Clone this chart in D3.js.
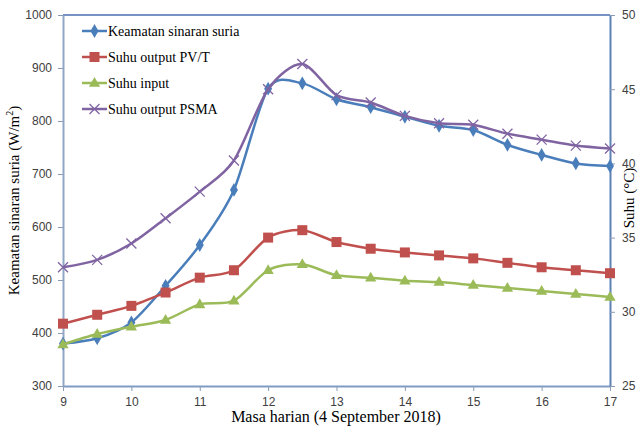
<!DOCTYPE html>
<html><head><meta charset="utf-8">
<script src="https://cdn.jsdelivr.net/npm/d3@7"></script>
<style>body{margin:0;background:#fff}svg{display:block}</style>
</head><body>
<svg id="c" width="640" height="429"></svg>
<script>
const hours = [9,9.5,10,10.5,11,11.5,12,12.5,13,13.5,14,14.5,15,15.5,16,16.5,17];
const irradiance = [380,390,420,489,566,670,861,871,841,826,808,791,783,755,736,720,715];
const suhuPVT = [29.2,29.8,30.4,31.3,32.3,32.8,35.0,35.5,34.7,34.25,34.0,33.8,33.6,33.3,33.0,32.8,32.6];
const suhuInput = [27.8,28.5,29.0,29.45,30.5,30.75,32.8,33.2,32.46,32.3,32.1,32.0,31.8,31.6,31.4,31.2,31.0];
const suhuPSMA = [33.0,33.5,34.6,36.3,38.1,40.2,45.0,46.7,44.6,44.1,43.2,42.7,42.6,42.0,41.6,41.2,41.0];
const xTicks = [9,10,11,12,13,14,15,16,17];
const leftTicks = [300,400,500,600,700,800,900,1000];
const rightTicks = [25,30,35,40,45,50];
const legendLabels = ["Keamatan sinaran suria","Suhu output PV/T","Suhu input","Suhu output PSMA"];

const svg = d3.select("#c");
const L=63, R=610, T=15, B=386;
const x = d3.scaleLinear().domain([9,17]).range([L,R]);
const yL = d3.scaleLinear().domain([300,1000]).range([B,T]);
const yR = d3.scaleLinear().domain([25,50]).range([B,T]);

const tickFont = "'Liberation Sans', Arial, sans-serif";
const serif = "'Liberation Serif', 'Times New Roman', serif";

// top border
svg.append("line").attr("x1",L).attr("x2",R).attr("y1",T).attr("y2",T)
  .attr("stroke","#4a6fb0").attr("stroke-width",1.5);

function styleAxis(g, color){
  g.select(".domain").attr("stroke",color).attr("stroke-width",2);
  g.selectAll(".tick line").attr("stroke","#8a9bb5").attr("stroke-width",1);
  g.selectAll(".tick text").attr("fill","#404040").style("font-family",tickFont).style("font-size","12px");
}
const gx = svg.append("g").attr("transform",`translate(0,${B})`)
  .call(d3.axisBottom(x).tickValues(xTicks).tickSize(5).tickSizeOuter(0).tickPadding(6).tickFormat(d3.format("d")));
styleAxis(gx,"#7f9cc4");
const gl = svg.append("g").attr("transform",`translate(${L},0)`)
  .call(d3.axisLeft(yL).tickValues(leftTicks).tickSize(5).tickSizeOuter(0).tickPadding(6).tickFormat(d3.format("d")));
styleAxis(gl,"#8fa6c6");
const gr = svg.append("g").attr("transform",`translate(${R},0)`)
  .call(d3.axisRight(yR).tickValues(rightTicks).tickSize(5).tickSizeOuter(0).tickPadding(7).tickFormat(d3.format("d")));
styleAxis(gr,"#5f82b4");

// axis titles
svg.append("text").attr("transform",`translate(19,${(T+B)/2}) rotate(-90)`)
  .attr("text-anchor","middle").style("font-family",serif).style("font-size","15px").attr("fill","#000")
  .html("Keamatan sinaran suria (W/m<tspan dy='-6' font-size='10px'>2</tspan><tspan dy='6'>)</tspan>");
svg.append("text").attr("transform",`translate(634,198) rotate(-90)`)
  .attr("text-anchor","middle").style("font-family",serif).style("font-size","15px").attr("fill","#000")
  .text("Suhu (°C)");
svg.append("text").attr("x",336).attr("y",422).attr("text-anchor","middle")
  .style("font-family",serif).style("font-size","16px").attr("fill","#000")
  .text("Masa harian (4 September 2018)");

const series = [
  {vals: irradiance, y: yL, color:"#4a7ebb", marker:"diamond"},
  {vals: suhuPVT, y: yR, color:"#c0504d", marker:"square"},
  {vals: suhuInput, y: yR, color:"#9bbb59", marker:"triangle"},
  {vals: suhuPSMA, y: yR, color:"#8064a2", marker:"x"}
];

function drawMarker(g, type, cx, cy, color){
  if(type==="diamond"){
    g.append("path").attr("d",d3.symbol(d3.symbolDiamond,55)()).attr("transform",`translate(${cx},${cy})`).attr("fill",color);
  } else if(type==="square"){
    g.append("rect").attr("x",cx-5).attr("y",cy-5).attr("width",10).attr("height",10).attr("fill",color);
  } else if(type==="triangle"){
    g.append("path").attr("d",d3.symbol(d3.symbolTriangle,55)()).attr("transform",`translate(${cx},${cy+0.5})`).attr("fill",color);
  } else {
    g.append("path").attr("d",`M${cx-5},${cy-5}L${cx+5},${cy+5}M${cx-5},${cy+5}L${cx+5},${cy-5}`)
      .attr("stroke",color).attr("stroke-width",1.3).attr("fill","none");
  }
}

[0,1,2,3].forEach(i=>{
  const s = series[i];
  const line = d3.line().x((d,j)=>x(hours[j])).y(d=>s.y(d)).curve(d3.curveCardinal.tension(0.15));
  svg.append("path").datum(s.vals).attr("d",line).attr("fill","none").attr("stroke",s.color).attr("stroke-width",2.5);
  const mg = svg.append("g");
  s.vals.forEach((v,j)=>drawMarker(mg,s.marker,x(hours[j]),s.y(v),s.color));
});

// legend
const lg = svg.append("g");
legendLabels.forEach((lab,i)=>{
  const yy = 31 + i*26;
  const s = series[i];
  lg.append("line").attr("x1",82).attr("x2",107).attr("y1",yy).attr("y2",yy).attr("stroke",s.color).attr("stroke-width",2.5);
  drawMarker(lg,s.marker,94.5,yy,s.color);
  lg.append("text").attr("x",108).attr("y",yy+4.5).style("font-family",serif).style("font-size","14px").attr("fill","#000").text(lab);
});
</script>
</body></html>
